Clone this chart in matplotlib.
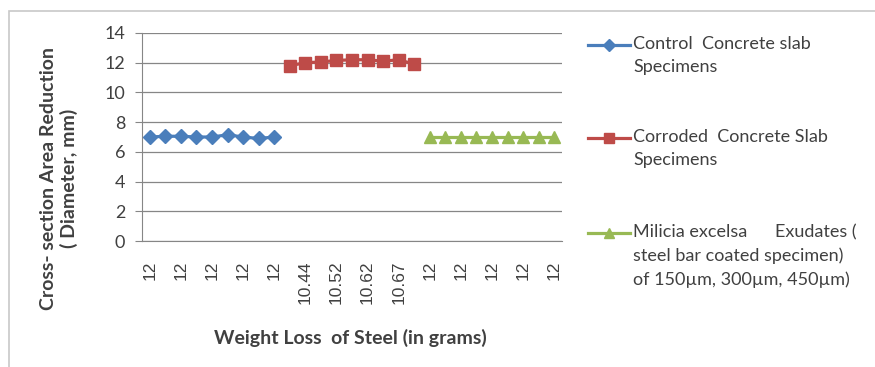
import matplotlib.pyplot as plt
from matplotlib.lines import Line2D
from matplotlib.patches import Rectangle

# category positions on the shared axis (labels shown on every second one)
control_x = list(range(0, 9))
corroded_x = list(range(9, 18))
coated_x = list(range(18, 27))

control_y = [7.0, 7.05, 7.05, 7.0, 7.0, 7.15, 7.0, 6.9, 7.0]
corroded_y = [11.8, 12.0, 12.05, 12.15, 12.2, 12.2, 12.1, 12.2, 11.9]
coated_y = [7.0, 7.0, 7.0, 7.0, 7.0, 7.0, 7.0, 7.0, 7.0]

tick_labels = ["12", "12", "12", "12", "12",
               "10.44", "10.52", "10.62", "10.67",
               "12", "12", "12", "12", "12"]

series_names = [
    "Control  Concrete slab\nSpecimens",
    "Corroded  Concrete Slab\nSpecimens",
    "Milicia excelsa      Exudates (\nsteel bar coated specimen)\nof 150\u00b5m, 300\u00b5m, 450\u00b5m)",
]

blue = "#4a7ebb"
red = "#be4b48"
green = "#98b954"
txt = "#404040"

plt.rcParams["font.family"] = ["Lato", "DejaVu Sans"]

fig = plt.figure(figsize=(8.75, 3.67), dpi=100)
ax = fig.add_axes([0.1623, 0.3433, 0.48, 0.5668])

ax.plot(control_x, control_y, color=blue, lw=2.3, marker="D", ms=7.5, mec=blue)
ax.plot(corroded_x, corroded_y, color=red, lw=2.3, marker="s", ms=9, mec=red)
ax.plot(coated_x, coated_y, color=green, lw=2.3, marker="^", ms=8.5, mec=green)

ax.set_ylim(0, 14)
ax.set_yticks(range(0, 15, 2))
ax.set_xlim(-0.5, 26.5)
ax.set_xticks(range(0, 27, 2))
ax.set_xticklabels(tick_labels, rotation=90, fontsize=12.5,
                   family=["Liberation Sans", "DejaVu Sans"], color=txt)
ax.tick_params(axis="x", length=0, pad=14)
ax.tick_params(axis="y", length=5, color="#868686", labelsize=13,
               labelcolor=txt, pad=7)
ax.grid(axis="y", color="#868686", lw=0.9)
ax.set_axisbelow(True)
for side in ["top", "right"]:
    ax.spines[side].set_visible(False)
for side in ["left", "bottom"]:
    ax.spines[side].set_color("#868686")

fig.text(59 / 875, 1 - 178 / 367,
         "Cross- section Area Reduction\n( Diameter, mm)",
         rotation=90, ha="center", va="center", fontsize=14,
         fontweight="bold", color=txt, linespacing=1.15)
fig.text(350 / 875, 1 - 338 / 367, "Weight Loss  of Steel (in grams)",
         ha="center", va="center", fontsize=14, fontweight="bold", color=txt)

# legend drawn by hand so each marker sits on the first text line
legend_rows = [(45, blue, "D", 6), (138, red, "s", 7), (233, green, "^", 7)]
for (ypx, col, mk, ms), name in zip(legend_rows, series_names):
    yy = 1 - ypx / 367
    fig.add_artist(Line2D([588 / 875, 630 / 875], [yy, yy], color=col, lw=2.3,
                          transform=fig.transFigure))
    fig.add_artist(Line2D([609 / 875], [yy], color=col, marker=mk, ms=ms,
                          transform=fig.transFigure))
    fig.text(633 / 875, yy + 9 / 367, name, ha="left", va="top",
             fontsize=13, color=txt, linespacing=1.55)

# chart area border
fig.add_artist(Rectangle((9 / 875, -0.05), 1.2, 1 - 11 / 367 + 0.05,
                         transform=fig.transFigure, fill=False,
                         ec="#c8c8c8", lw=1.2))

fig.savefig("out.png", dpi=100)
